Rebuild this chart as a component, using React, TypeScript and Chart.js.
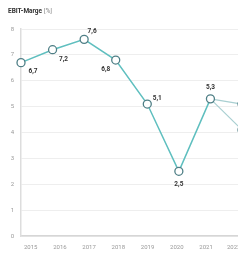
import React, { useEffect, useRef } from "react";
import { Chart, registerables } from "chart.js";

Chart.register(...registerables);

const years = ["2015", "2016", "2017", "2018", "2019", "2020", "2021", "2022e"];
const actual = [6.7, 7.2, 7.6, 6.8, 5.1, 2.5, 5.3, null];
const forecastHigh = [null, null, null, null, null, null, 5.3, 5.1];
const forecastLow = [null, null, null, null, null, null, 5.3, 4.1];
const actualLabels = ["6,7", "7,2", "7,6", "6,8", "5,1", "2,5", "5,3"];
const yTicks = [0, 1, 2, 3, 4, 5, 6, 7, 8];

// label placement (style): dx, dy in px relative to point
const labelOffsets: [number, number][] = [
  [12, 9], [11, 10], [8, -8], [-10, 9], [10, -6], [0, 13], [0, -11],
];

const FONT = "Roboto, 'Liberation Sans', sans-serif";

const overlayPlugin = {
  id: "overlay",
  afterDraw(chart: any) {
    const ctx = chart.ctx;
    ctx.save();
    ctx.textBaseline = "middle";
    ctx.textAlign = "left";
    ctx.font = `bold 6.5px ${FONT}`;
    ctx.fillStyle = "#333";
    const t1 = "EBIT-Marge";
    ctx.fillText(t1, 8, 11);
    const w = ctx.measureText(t1).width;
    ctx.font = `6.5px ${FONT}`;
    ctx.fillStyle = "#888";
    ctx.fillText(" [%]", 8 + w, 11);
    const meta = chart.getDatasetMeta(0);
    ctx.font = `bold 6.5px ${FONT}`;
    ctx.fillStyle = "#333";
    ctx.textAlign = "center";
    meta.data.forEach((pt: any, i: number) => {
      if (actual[i] == null || !actualLabels[i]) return;
      const [dx, dy] = labelOffsets[i];
      ctx.fillText(actualLabels[i], pt.x + dx, pt.y + dy);
    });
    ctx.restore();
  },
};

export default function App() {
  const ref = useRef<HTMLCanvasElement>(null);
  useEffect(() => {
    if (!ref.current) return;
    const teal = "#5fbfbf";
    const pointBorder = "#4f7f86";
    const light = "#a9cfd1";
    const chart = new Chart(ref.current, {
      type: "line",
      data: {
        labels: years,
        datasets: [
          {
            data: actual,
            borderColor: teal,
            borderWidth: 1.5,
            pointBackgroundColor: "#fff",
            pointBorderColor: pointBorder,
            pointBorderWidth: 1.3,
            pointRadius: 4,
            tension: 0,
            order: 0,
          },
          {
            data: forecastHigh,
            borderColor: light,
            borderWidth: 1.2,
            pointBackgroundColor: "#fff",
            pointBorderColor: pointBorder,
            pointBorderWidth: 1.3,
            pointRadius: [0, 0, 0, 0, 0, 0, 0, 4],
            order: 1,
          },
          {
            data: forecastLow,
            borderColor: light,
            borderWidth: 1.2,
            pointBackgroundColor: "#fff",
            pointBorderColor: pointBorder,
            pointBorderWidth: 1.3,
            pointRadius: [0, 0, 0, 0, 0, 0, 0, 4],
            order: 2,
          },
        ],
      },
      options: {
        animation: false,
        responsive: false,
        devicePixelRatio: 1,
        layout: { padding: { top: 29, right: 48, left: 0, bottom: 0 } },
        plugins: { legend: { display: false }, tooltip: { enabled: false } },
        scales: {
          x: {
            offset: false,
            grid: { display: false, drawTicks: false },
            border: { display: true, color: "#d6d6d6", width: 1.5 },
            ticks: { display: false },
            afterFit: (s: any) => { s.height = 0; },
          },
          xLabels: {
            type: "linear",
            position: "bottom",
            min: -0.33,
            max: 7.23,
            afterBuildTicks: (s: any) => { s.ticks = years.map((_, i) => ({ value: i })); },
            grid: { display: false, drawTicks: false },
            border: { display: false },
            ticks: {
              color: "#999",
              font: { size: 6, family: FONT },
              padding: 8,
              maxRotation: 0,
              autoSkip: false,
              callback: (v: any) => years[v] ?? "",
            },
            afterFit: (s: any) => { s.height = 22; },
          },
          y: {
            min: 0,
            max: 8,
            afterBuildTicks: (s: any) => { s.ticks = yTicks.map((v) => ({ value: v })); },
            grid: { color: "#eeeeee", drawTicks: false },
            border: { display: true, color: "#dddddd", width: 1.5 },
            ticks: {
              color: "#999",
              font: { size: 6, family: FONT },
              padding: 7,
            },
            afterFit: (s: any) => { s.width = 21; },
          },
        },
      },
      plugins: [overlayPlugin],
    });
    return () => chart.destroy();
  }, []);
  return (
    <div style={{ margin: -8, width: 246, height: 258, overflow: "hidden", position: "relative", background: "#fff" }}>
      <canvas ref={ref} width={290} height={258} style={{ display: "block" }} />
    </div>
  );
}
